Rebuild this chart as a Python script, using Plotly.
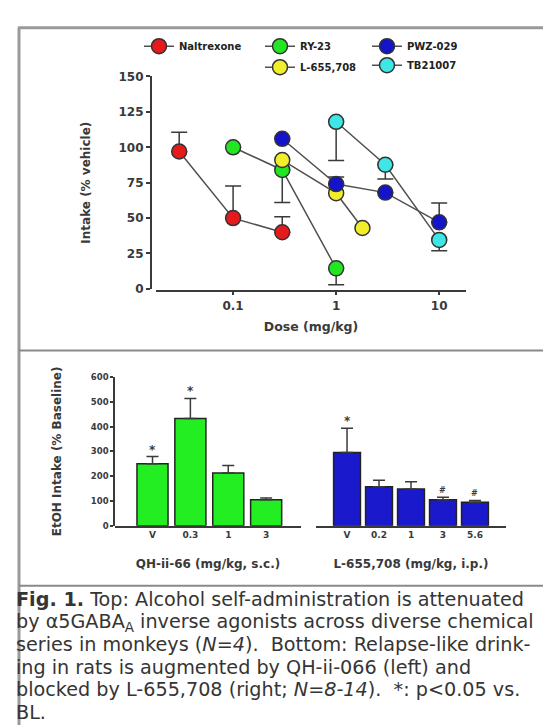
import plotly.graph_objects as go

W, H = 551, 725
def px(x): return x / W
def py(y): return 1 - y / H

# ---------------- data: top panel (monkeys) ----------------
nal_dose = [0.03, 0.1, 0.3]
nal_val = [97, 50, 40]
nal_up = [13.7, 22.7, 11]
nal_dn = [0, 0, 0]

ry_dose = [0.1, 0.3, 1]
ry_val = [100, 84, 14.5]
ry_up = [0, 0, 0]
ry_dn = [0, 23, 11.5]

l6_dose = [0.3, 1, 1.8]
l6_val = [91, 67.6, 43]

pwz_dose = [0.3, 1, 3, 10]
pwz_val = [106, 74, 68, 47]
pwz_up = [0, 5, 0, 13.7]
pwz_dn = [0, 0, 0, 0]

tb_dose = [1, 3, 10]
tb_val = [118, 87.7, 34.6]
tb_up = [0, 0, 0]
tb_dn = [27.3, 10, 7.6]

top_yticks = [0, 25, 50, 75, 100, 125, 150]
top_xticks = [0.1, 1, 10]
top_xticktext = ["0.1", "1", "10"]

# ---------------- data: bottom panel (rats) ----------------
qh_labels = ["V", "0.3", "1", "3"]
qh_vals = [250, 433, 213, 105]
qh_err = [29, 81, 30, 7]
qh_marks = ["*", "*", "", ""]

l655_labels = ["V", "0.2", "1", "3", "5.6"]
l655_vals = [296, 157, 148, 105, 95]
l655_err = [98, 26, 29, 10, 7]
l655_marks = ["*", "", "", "#", "#"]

bot_yticks = [0, 100, 200, 300, 400, 500, 600]

caption_lines = [
    "<b>Fig. 1.</b> Top: Alcohol self-administration is attenuated",
    "by α5GABA<sub>A</sub> inverse agonists across diverse chemical",
    "series in monkeys (<i>N=4</i>).  Bottom: Relapse-like drink-",
    "ing in rats is augmented by QH-ii-066 (left) and",
    "blocked by L-655,708 (right; <i>N=8-14</i>).  *: p<0.05 vs.",
    "BL.",
]

# ---------------- styling ----------------
FONT = "DejaVu Sans, Verdana, sans-serif"
DARK = "#3a3a3a"
LINEC = "#505050"
RED, GREEN, BLUE, YELLOW, CYAN = "#e41a1c", "#22e622", "#1414c8", "#f2ee2a", "#3ee6e6"
MS = 15

def bf(size, color=DARK):
    return dict(size=size, family=FONT, color=color, weight="bold")

fig = go.Figure()

def add_series(name, dose, val, color, legend, up=None, dn=None):
    err = None
    if up is not None:
        err = dict(type="data", symmetric=False, array=up, arrayminus=dn,
                   color=DARK, thickness=1.5, width=8)
    fig.add_trace(go.Scatter(
        x=dose, y=val, name=name, mode="lines+markers",
        line=dict(color=LINEC, width=1.5),
        marker=dict(size=MS, color=color, line=dict(color="#333333", width=1.5)),
        error_y=err, xaxis="x", yaxis="y", legend=legend,
        legendgroup=name,
    ))

add_series("Naltrexone", nal_dose, nal_val, RED, "legend", nal_up, nal_dn)
add_series("RY-23", ry_dose, ry_val, GREEN, "legend2", ry_up, ry_dn)
add_series("L-655,708", l6_dose, l6_val, YELLOW, "legend2")
add_series("TB21007", tb_dose, tb_val, CYAN, "legend3", tb_up, tb_dn)
add_series("PWZ-029", pwz_dose, pwz_val, BLUE, "legend3", pwz_up, pwz_dn)

# bottom bars
fig.add_trace(go.Bar(
    x=qh_labels, y=qh_vals, width=0.82, xaxis="x2", yaxis="y2",
    marker=dict(color="#22ee22", line=dict(color="#222222", width=1.5)),
    error_y=dict(type="data", symmetric=False, array=qh_err,
                 arrayminus=[0] * len(qh_err), color=DARK, thickness=1.5, width=6),
    showlegend=False,
))
fig.add_trace(go.Bar(
    x=l655_labels, y=l655_vals, width=0.84, xaxis="x3", yaxis="y2",
    marker=dict(color="#1a1acc", line=dict(color="#222222", width=1.5)),
    error_y=dict(type="data", symmetric=False, array=l655_err,
                 arrayminus=[0] * len(l655_err), color=DARK, thickness=1.5, width=6),
    showlegend=False,
))

annotations = []
for i, (v, e, m) in enumerate(zip(qh_vals, qh_err, qh_marks)):
    if m:
        annotations.append(dict(x=i, y=v + e, xref="x2", yref="y2", text=m,
                                showarrow=False, yanchor="middle", yshift=7,
                                font=bf(12)))
for i, (v, e, m) in enumerate(zip(l655_vals, l655_err, l655_marks)):
    if m:
        annotations.append(dict(x=i, y=v + e, xref="x3", yref="y2", text=m,
                                showarrow=False, yanchor="middle", yshift=7,
                                font=bf(8 if m == "#" else 12)))

cap_y = [596, 619, 642, 665, 688, 711]
for t, yy in zip(caption_lines, cap_y):
    annotations.append(dict(x=px(6), y=py(yy), xref="paper", yref="paper", text=t,
                            showarrow=False, xanchor="left", yanchor="middle",
                            font=dict(size=19.2, color="#353535", family=FONT)))

# frame
shapes = [
    dict(type="line", xref="paper", yref="paper", x0=px(11), x1=px(11), y0=py(13), y1=0,
         line=dict(color="#9a9a9a", width=3)),
    dict(type="line", xref="paper", yref="paper", x0=px(10), x1=1, y0=py(13), y1=py(13),
         line=dict(color="#9a9a9a", width=3)),
    dict(type="line", xref="paper", yref="paper", x0=px(11), x1=1, y0=py(342), y1=py(342),
         line=dict(color="#8a8a8a", width=2)),
    dict(type="line", xref="paper", yref="paper", x0=px(11), x1=1, y0=py(582), y1=py(582),
         line=dict(color="#8a8a8a", width=2)),
]

axcommon = dict(showgrid=False, zeroline=False, showline=True, linecolor=DARK, linewidth=1.5,
                tickcolor=DARK, tickwidth=1.5)

legcommon = dict(yanchor="top", xanchor="left", bgcolor="rgba(0,0,0,0)",
                 font=bf(10, "#222222"), tracegroupgap=2, itemwidth=30)

fig.update_layout(
    width=W, height=H, margin=dict(l=0, r=0, t=0, b=0),
    paper_bgcolor="white", plot_bgcolor="rgba(0,0,0,0)",
    font=dict(family=FONT, color=DARK),
    showlegend=True,
    legend=dict(x=px(131), y=py(17), **legcommon),
    legend2=dict(x=px(252), y=py(17), **legcommon),
    legend3=dict(x=px(359), y=py(17), traceorder="reversed", **legcommon),
    xaxis=dict(type="log", domain=[px(148), px(458)], range=[-1.748, 1.26],
               anchor="free", position=py(281), ticks="outside", ticklen=4,
               tickvals=top_xticks, ticktext=top_xticktext, tickfont=bf(12),
               title=dict(text="Dose (mg/kg)", font=bf(12.5), standoff=10),
               **axcommon),
    yaxis=dict(domain=[py(279.3), py(62.7)], range=[0, 150], anchor="free", position=px(142.7),
               ticks="outside", ticklen=4, tickvals=top_yticks, tickfont=bf(12),
               title=dict(text="Intake (% vehicle)", font=bf(12), standoff=24),
               **axcommon),
    xaxis2=dict(type="category", domain=[px(107), px(293)], range=[-0.99, 3.92], anchor="y2",
                ticks="", tickfont=bf(9),
                title=dict(text="QH-ii-66 (mg/kg, s.c.)", font=bf(12), standoff=20),
                **axcommon),
    xaxis3=dict(type="category", domain=[px(308), px(498)], range=[-0.97, 4.97], anchor="y2",
                ticks="", tickfont=bf(9),
                title=dict(text="L-655,708 (mg/kg, i.p.)", font=bf(12), standoff=20),
                **axcommon),
    yaxis2=dict(domain=[py(520.7), py(369.3)], range=[0, 600], anchor="free", position=px(106),
                ticks="outside", ticklen=3, tickvals=bot_yticks, tickfont=bf(8.5),
                title=dict(text="EtOH Intake (% Baseline)", font=bf(12), standoff=26),
                **axcommon),
    annotations=annotations,
    shapes=shapes,
    bargap=0.18,
)

fig.write_html("out.html")
